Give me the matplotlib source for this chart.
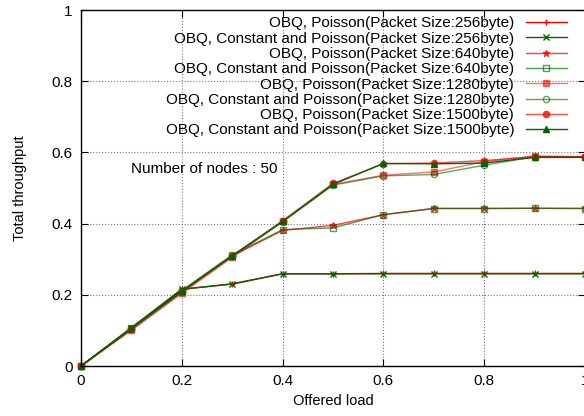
import matplotlib.pyplot as plt

plt.rcParams['font.family'] = ['Liberation Sans', 'DejaVu Sans']

# offered load
load = [0.0, 0.1, 0.2, 0.3, 0.4, 0.5, 0.6, 0.7, 0.8, 0.9, 1.0]

# total throughput
p256 = [0.0, 0.105, 0.215, 0.231, 0.259, 0.259, 0.260, 0.260, 0.260, 0.260, 0.260]
c256 = [0.0, 0.108, 0.216, 0.230, 0.259, 0.259, 0.259, 0.259, 0.259, 0.259, 0.259]
p640 = [0.0, 0.104, 0.210, 0.309, 0.381, 0.395, 0.425, 0.443, 0.443, 0.443, 0.443]
c640 = [0.0, 0.106, 0.212, 0.312, 0.383, 0.388, 0.425, 0.442, 0.442, 0.443, 0.442]
p1280 = [0.0, 0.100, 0.204, 0.305, 0.406, 0.510, 0.536, 0.545, 0.574, 0.590, 0.588]
c1280 = [0.0, 0.103, 0.208, 0.308, 0.405, 0.508, 0.534, 0.538, 0.564, 0.588, 0.587]
p1500 = [0.0, 0.104, 0.207, 0.309, 0.408, 0.513, 0.568, 0.570, 0.577, 0.588, 0.588]
c1500 = [0.0, 0.106, 0.210, 0.310, 0.406, 0.510, 0.569, 0.568, 0.570, 0.586, 0.586]

labels = [
    'OBQ, Poisson(Packet Size:256byte)',
    'OBQ, Constant and Poisson(Packet Size:256byte)',
    'OBQ, Poisson(Packet Size:640byte)',
    'OBQ, Constant and Poisson(Packet Size:640byte)',
    'OBQ, Poisson(Packet Size:1280byte)',
    'OBQ, Constant and Poisson(Packet Size:1280byte)',
    'OBQ, Poisson(Packet Size:1500byte)',
    'OBQ, Constant and Poisson(Packet Size:1500byte)',
]

red = '#ff0000'
green = '#006400'

fig = plt.figure(figsize=(5.84, 4.16), dpi=100)
ax = fig.add_axes([81 / 584, 1 - 366 / 416, 504 / 584, 356 / 416])

series = [
    (p256, red, '+', 'full', 1.0),
    (c256, green, 'x', 'full', 1.0),
    (p640, red, '*', 'full', 0.75),
    (c640, green, 's', 'none', 0.65),
    (p1280, red, 's', 'full', 0.55),
    (c1280, green, 'o', 'none', 0.6),
    (p1500, red, 'o', 'full', 0.7),
    (c1500, green, '^', 'full', 1.0),
]
for (ys, col, mk, fill, a), lab in zip(series, labels):
    ax.plot(load, ys, color=col, marker=mk, fillstyle=fill, markersize=4.5,
            markeredgewidth=1.0, linewidth=1.0, alpha=a, label=lab, clip_on=False)

ax.set_xlim(0, 1)
ax.set_ylim(0, 1)
ax.set_xticks([0, 0.2, 0.4, 0.6, 0.8, 1])
ax.set_xticklabels(['0', '0.2', '0.4', '0.6', '0.8', '1'])
ax.set_yticks([0, 0.2, 0.4, 0.6, 0.8, 1])
ax.set_yticklabels(['0', '0.2', '0.4', '0.6', '0.8', '1'])
ax.tick_params(direction='in', length=5, top=True, right=True, labelsize=11, pad=6)
ax.grid(True, linestyle=':', color='#777777', linewidth=0.8)
for s in ax.spines.values():
    s.set_linewidth(1.0)

ax.set_xlabel('Offered load', fontsize=10.5, labelpad=4)
ax.set_ylabel('Total throughput', fontsize=10.5, labelpad=18)
ax.text(0.39, 0.552, 'Number of nodes : 50', ha='right', va='center', fontsize=11)

ax.legend(loc='upper right', bbox_to_anchor=(0.964, 0.982), frameon=False,
          markerfirst=False, fontsize=11, handlelength=2.7, handletextpad=0.75,
          labelspacing=0.085, borderaxespad=0, borderpad=0)

fig.savefig('out.png', dpi=100)
